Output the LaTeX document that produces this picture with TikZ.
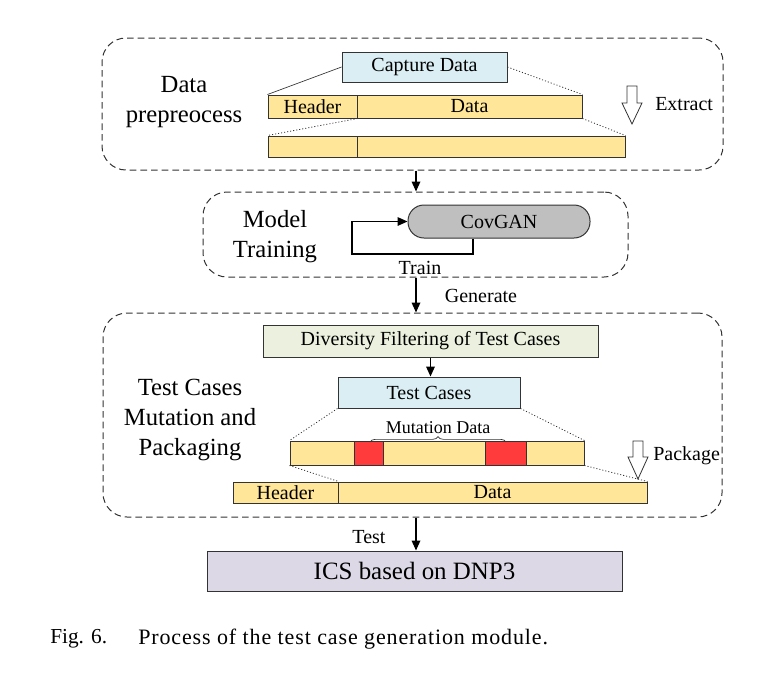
\documentclass[tikz,border=0pt]{standalone}
\usepackage{fontspec}
\setmainfont{Liberation Serif}
\usetikzlibrary{fit,arrows.meta,decorations.pathreplacing,calc}
\definecolor{cyel}{HTML}{FFE699}
\definecolor{cred}{HTML}{FF3B3B}
\definecolor{cblue}{HTML}{DAEEF3}
\definecolor{cgreen}{HTML}{EBF1DE}
\definecolor{cgrey}{HTML}{BFBFBF}
\definecolor{clav}{HTML}{DDD8E6}
\definecolor{cline}{HTML}{333333}
\begin{document}
\begin{tikzpicture}[x=0.75pt,y=-0.75pt,
  ftA/.style={font=\fontsize{15}{18}\selectfont},
  ftB/.style={font=\fontsize{18.5}{22.5}\selectfont},
  box/.style={draw=cline, line width=0.75pt, inner sep=0pt},
  txt/.style={label={[ftA, inner sep=0pt]center:#1}},
  cont/.style={draw=cline, dash pattern=on 5pt off 3pt, line width=0.75pt, rounded corners=18pt, inner sep=0pt},
  arr/.style={-{Triangle[length=7.5pt,width=6.5pt]}, line width=0.9pt, draw=black},
  dotl/.style={dash pattern=on 0.8pt off 1.5pt, line width=0.6pt, draw=cline},
  thinl/.style={line width=0.5pt, draw=cline},
  hollow/.style={line width=0.6pt, draw=cline, fill=white},
  lbl/.style={ftA, inner sep=0pt},
  big/.style={ftB, inner sep=0pt, align=center}]
\useasboundingbox (0,0) rectangle (783,679);
\coordinate (ax) at (416,0);

% ---------- Data preprocess ----------
\node[cont, fit={(102,38) (723,170)}] (c1) {};
\node[big] (l1) at (184,102) {Data\\prepreocess};
\node[box, fill=cblue, fit={(342,52) (507,82)}, txt={Capture Data}] (cap) {};
\node[box, fill=cyel, fit={(268,95) (357,118)}, txt={Header}] (h1) {};
\node[box, fill=cyel, fit={(357,95) (582,118)}, txt={Data}] (d1) {};
\node[box, fill=cyel, fit={(268,136) (357,157)}] (h2) {};
\node[box, fill=cyel, fit={(357,136) (625,157)}] (d2) {};
\draw[thinl] (cap.west) -- (h1.north west);
\draw[dotl] (cap.east) -- (d1.north east);
\draw[dotl] (h1.south east) -- (h2.north west);
\draw[dotl] (d1.south east) -- (d2.north east);
\draw[hollow] (627,86) -- (637,86) -- (637,103) -- (642,103) -- (632,124) -- (622,103) -- (627,103) -- cycle;
\node[lbl, anchor=west] (ex) at (655,104) {Extract};

% ---------- Model training ----------
\node[cont, fit={(203,192) (628,277)}] (c2) {};
\node[big] (l2) at (275,237) {Model\\Training};
\node[box, fill=cgrey, rounded corners=12pt, fit={(408,205) (590,238)}, txt={CovGAN}] (gan) {};
\coordinate (lp1) at (473,254);
\coordinate (lp2) at (352,254);
\draw[arr, line width=0.8pt] (gan.south -| lp1) -- (lp1) -- (lp2) |- (gan.west);
\node[lbl] (tr) at (420,268) {Train};

% ---------- Test cases ----------
\node[cont, fit={(103,313) (722,517)}] (c3) {};
\node[big] (l3) at (190,420) {Test Cases\\Mutation and\\Packaging};
\node[box, fill=cgreen, fit={(263,325) (598,357)}, txt={Diversity Filtering of Test Cases}] (div) {};
\node[box, fill=cblue, fit={(338,377) (520,408)}, txt={Test Cases}] (tc) {};
\draw[arr] (div.south) -- (div.south |- tc.north);

\node[box, fill=cyel, fit={(290,441) (354,465)}] (m1) {};
\node[box, fill=cred, fit={(354,441) (383,465)}] (m2) {};
\node[box, fill=cyel, fit={(383,441) (485,465)}] (m3) {};
\node[box, fill=cred, fit={(485,441) (526,465)}] (m4) {};
\node[box, fill=cyel, fit={(526,441) (584,465)}] (m5) {};
\coordinate (b1) at (370,442);
\coordinate (b2) at (506,442);
\draw[thinl, decorate, decoration={brace, amplitude=4pt}] (b1) -- (b2);
\node[lbl, font=\fontsize{13.5}{16}\selectfont] (md) at (438,428) {Mutation Data};

\node[box, fill=cyel, fit={(233,482) (338,503)}, txt={Header}] (h3) {};
\node[box, fill=cyel, fit={(338,482) (647,503)}, txt={Data}] (d3) {};
\draw[dotl] (tc.south west) -- (m1.north west);
\draw[dotl] (tc.south east) -- (m5.north east);
\draw[dotl] (m1.south west) -- (h3.north east);
\draw[dotl] (m5.south east) -- (d3.north east);
\draw[hollow] (633,441) -- (643,441) -- (643,457) -- (648,457) -- (638,479) -- (628,457) -- (633,457) -- cycle;
\node[lbl, anchor=west] (pk) at (653,456) {Package};

% ---------- ICS ----------
\node[box, fill=clav, fit={(207,551) (622,591)}, label={[inner sep=0pt, font=\fontsize{18.7}{22}\selectfont]center:ICS based on DNP3}] (ics) {};

% ---------- connectors between stages ----------
\draw[arr] (c1.south -| ax) -- (c2.north -| ax);
\draw[arr] (c2.south -| ax) -- (c3.north -| ax);
\node[lbl] (gen) at (481,296) {Generate};
\draw[arr] (c3.south -| ax) -- (ics.north -| ax);
\node[lbl] (tst) at (369,537) {Test};

% ---------- caption ----------
\node[lbl, anchor=west, font=\fontsize{16}{20}\selectfont] (fig) at (50,639) {Fig. 6.};
\node[lbl, anchor=west, font=\fontsize{16.5}{20}\selectfont\addfontfeature{LetterSpace=4}] (cap2) at (138,639) {Process of the test case generation module.};
\end{tikzpicture}
\end{document}
